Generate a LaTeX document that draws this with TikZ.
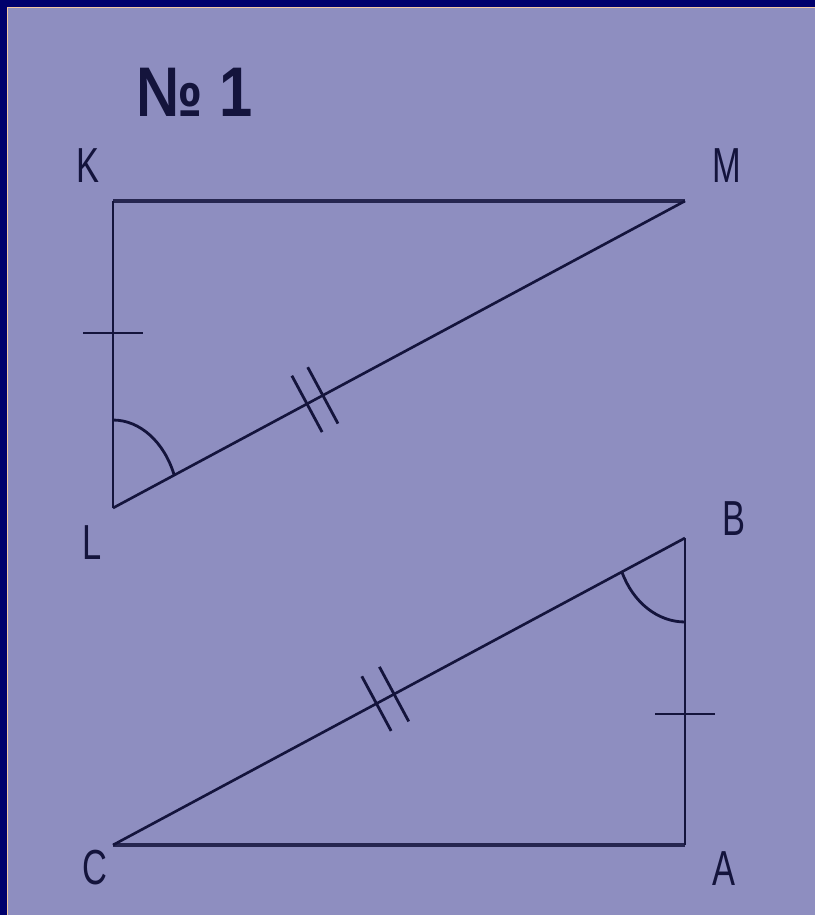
\documentclass[tikz,border=0pt]{standalone}
\usepackage{fontspec}
\setmainfont{Liberation Sans}
\newfontfamily\labelfont[FakeStretch=0.7]{Liberation Sans}
\newfontfamily\titlefont[FakeStretch=0.85]{Liberation Sans}
\usetikzlibrary{calc}
\definecolor{slidebg}{RGB}{142,142,192}
\definecolor{framenavy}{RGB}{0,0,108}
\definecolor{framepeach}{RGB}{245,200,160}
\definecolor{inkblue}{RGB}{20,20,60}

\begin{document}
\begin{tikzpicture}[x=0.02cm, y=-0.02cm,
    every node/.style={text=inkblue, inner sep=0pt},
    vlabel/.style={font=\labelfont\fontsize{28}{30}\selectfont},
    leg/.style={draw=inkblue, line width=1.6pt},
    base/.style={draw=inkblue!85!slidebg, line width=2.6pt},
    hyp/.style={draw=inkblue, line width=1.5pt},
    tick/.style={draw=inkblue, line width=1.6pt}]
  \useasboundingbox (0,0) rectangle (814,915);
  % background and frame
  \fill[slidebg] (0,0) rectangle (818,919);
  \fill[framenavy] (0,0) rectangle (818,7);
  \fill[framenavy] (0,0) rectangle (7,919);
  \draw[framepeach, line width=1pt] (818,7.5) -- (7.5,7.5) -- (7.5,919);

  \node[font=\titlefont\bfseries\fontsize{40}{42}\selectfont] (title) at (195,92) {№ 1};

  % triangle KLM
  \coordinate (K) at (113,201);
  \coordinate (M) at (685,201);
  \coordinate (L) at (113,508);
  \node[vlabel] (lK) at (88,166) {K};
  \node[vlabel] (lM) at (727,166) {M};
  \node[vlabel] (lL) at (92,543) {L};
  \draw[base] (K) -- (M);
  \draw[leg] (L) -- (K);
  \draw[hyp] (L) -- (M);

  \coordinate (kl) at ($(K)!0.43!(L)$);
  \draw[tick] ($(kl)!0.6cm!90:(L)$) -- ($(kl)!0.6cm!-90:(L)$);
  \coordinate (lm) at ($(L)!0.353!(M)$);
  \coordinate (lm1) at ($(lm)!0.18cm!(M)$);
  \coordinate (lm2) at ($(lm)!-0.18cm!(M)$);
  \foreach \c in {lm1,lm2}
    \draw[tick] ($(\c)!0.64cm!90:(M)$) -- ($(\c)!0.64cm!-90:(M)$);
  \draw[leg] ($(L)!1.76cm!(K)$) arc[start angle=90, end angle=22, x radius=1.32cm, y radius=1.76cm];

  % triangle ABC
  \coordinate (B) at (685,538);
  \coordinate (A) at (685,845);
  \coordinate (C) at (113,845);
  \node[vlabel] (lB) at (734,519) {B};
  \node[vlabel] (lC) at (95,868) {C};
  \node[vlabel] (lA) at (724,869) {A};
  \draw[base] (C) -- (A);
  \draw[leg] (B) -- (A);
  \draw[hyp] (C) -- (B);

  \coordinate (ba) at ($(B)!0.573!(A)$);
  \draw[tick] ($(ba)!0.6cm!90:(A)$) -- ($(ba)!0.6cm!-90:(A)$);
  \coordinate (cb) at ($(C)!0.476!(B)$);
  \coordinate (cb1) at ($(cb)!0.2cm!(B)$);
  \coordinate (cb2) at ($(cb)!-0.2cm!(B)$);
  \foreach \c in {cb1,cb2}
    \draw[tick] ($(\c)!0.62cm!90:(B)$) -- ($(\c)!0.62cm!-90:(B)$);
  \draw[leg] ($(B)!1.68cm!(A)$) arc[start angle=270, end angle=204, x radius=1.38cm, y radius=1.68cm];
\end{tikzpicture}
\end{document}
